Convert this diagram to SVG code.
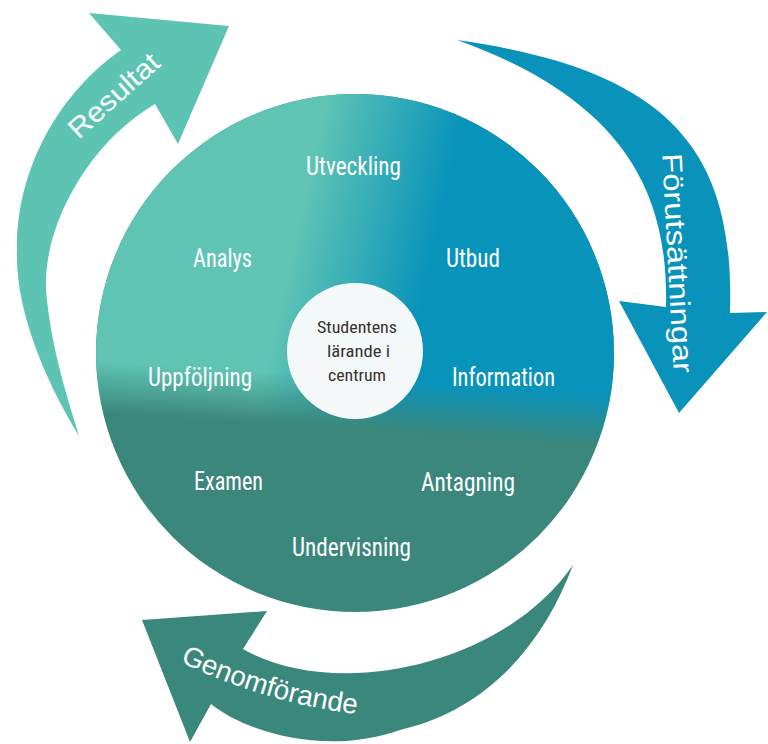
<svg xmlns="http://www.w3.org/2000/svg" width="768" height="744" viewBox="0 0 768 744">
<defs>
<style>
.lbl{font-family:"Liberation Sans Narrow","Roboto Condensed","DejaVu Sans Condensed","Liberation Sans",sans-serif;font-stretch:condensed;font-size:25px;fill:#ffffff;}
.inner{font-family:"Liberation Sans Narrow","Roboto Condensed","DejaVu Sans Condensed","Liberation Sans",sans-serif;font-stretch:condensed;font-size:16px;fill:#333333;}
.arr{font-family:"Liberation Sans","Arial",sans-serif;font-size:28px;fill:#ffffff;}
</style>
<linearGradient id="topGrad" gradientUnits="userSpaceOnUse" x1="300" y1="215" x2="435" y2="245">
<stop offset="0" stop-color="#5fc4b4"/>
<stop offset="1" stop-color="#0893bb"/>
</linearGradient>
<linearGradient id="fadeGrad" gradientUnits="userSpaceOnUse" x1="356.4" y1="378" x2="353" y2="430">
<stop offset="0" stop-color="#ffffff"/>
<stop offset="1" stop-color="#000000"/>
</linearGradient>
<mask id="topMask" maskUnits="userSpaceOnUse" x="0" y="0" width="768" height="744">
<rect x="0" y="0" width="768" height="744" fill="url(#fadeGrad)"/>
</mask>
</defs>

<g id="wheel">
<circle cx="355" cy="353" r="259" fill="#3b877b"/>
<circle cx="355" cy="353" r="259" fill="url(#topGrad)" mask="url(#topMask)"/>
</g>

<g id="center">
<circle cx="355" cy="351" r="68" fill="#f5f8f8"/>
<text class="inner" x="317" y="333" textLength="80" lengthAdjust="spacingAndGlyphs">Studentens</text>
<text class="inner" x="327" y="357" textLength="63" lengthAdjust="spacingAndGlyphs">lärande i</text>
<text class="inner" x="328" y="381" textLength="58" lengthAdjust="spacingAndGlyphs">centrum</text>
</g>

<g id="n-utveckling"><text class="lbl" x="306" y="175" textLength="95" lengthAdjust="spacingAndGlyphs">Utveckling</text></g>
<g id="n-analys"><text class="lbl" x="193" y="267" textLength="59" lengthAdjust="spacingAndGlyphs">Analys</text></g>
<g id="n-utbud"><text class="lbl" x="446" y="267" textLength="54" lengthAdjust="spacingAndGlyphs">Utbud</text></g>
<g id="n-uppfoljning"><text class="lbl" x="148" y="386" textLength="104" lengthAdjust="spacingAndGlyphs">Uppföljning</text></g>
<g id="n-information"><text class="lbl" x="452" y="386" textLength="103" lengthAdjust="spacingAndGlyphs">Information</text></g>
<g id="n-examen"><text class="lbl" x="194" y="490" textLength="69" lengthAdjust="spacingAndGlyphs">Examen</text></g>
<g id="n-antagning"><text class="lbl" x="421" y="491" textLength="94" lengthAdjust="spacingAndGlyphs">Antagning</text></g>
<g id="n-undervisning"><text class="lbl" x="292" y="556" textLength="119" lengthAdjust="spacingAndGlyphs">Undervisning</text></g>

<g id="connectors">
<g id="arrow-resultat">
<path fill="#5dc4b4" d="M79,436 C45,380 15,310 17,250 C16,180 50,100 121,50 L89,13 L229,26 L178,144 L155,104 C85,145 38,235 47,300 C52,350 68,400 79,436 Z"/>
<g transform="translate(113.5,95) rotate(-42)"><text class="arr" x="-56" y="10" textLength="112" lengthAdjust="spacingAndGlyphs">Resultat</text></g>
</g>
<g id="arrow-forutsattningar">
<path fill="#0993bb" d="M457,40 C670,70 735,150 730,313 L767,312 L679,413 L619,301 L666,307 C668,210 640,105 457,40 Z"/>
<g transform="translate(678,263) rotate(87)"><text class="arr" x="-110" y="10" textLength="220" lengthAdjust="spacingAndGlyphs">Förutsättningar</text></g>
</g>
<g id="arrow-genomforande">
<path fill="#3a877b" d="M573,565 C545,640 490,710 400,730 C330,755 250,735 211,704 L190,742 L142,620 L267,611 L243,649 C330,700 500,670 573,565 Z"/>
<path id="gpath" d="M180,662 Q270,705 365,715" fill="none"/>
<text class="arr"><textPath href="#gpath" textLength="185" lengthAdjust="spacingAndGlyphs">Genomförande</textPath></text>
</g>
</g>
</svg>
